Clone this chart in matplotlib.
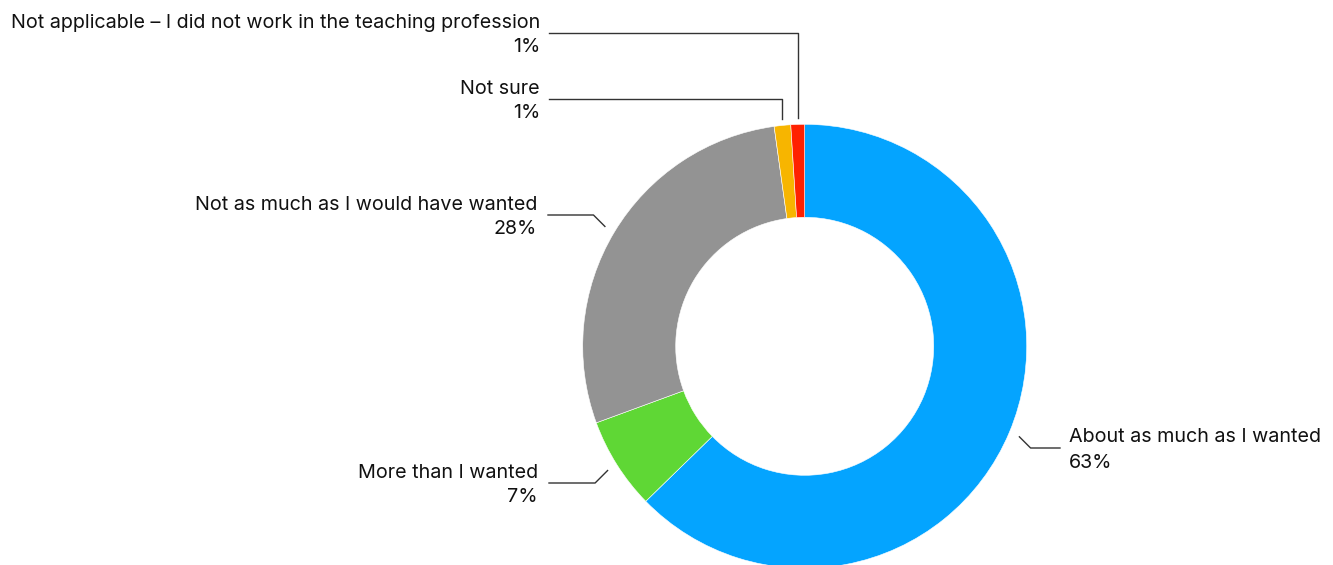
import numpy as np
import matplotlib
matplotlib.use("Agg")
import matplotlib.pyplot as plt

# survey answers, clockwise from 12 o'clock
answers = ["About as much as I wanted", "More than I wanted",
           "Not as much as I would have wanted", "Not sure",
           "Not applicable \u2013 I did not work in the teaching profession"]
shares = [62.7, 6.7, 28.4, 1.2, 1.0]
pct_labels = ["63%", "7%", "28%", "1%", "1%"]
colors = ["#04a4ff", "#5fd735", "#939393", "#f7b500", "#ff2100"]

W, H = 1333, 565
plt.rcParams["font.family"] = ["Inter", "DejaVu Sans"]
fig = plt.figure(figsize=(W / 100, H / 100), dpi=100)
ax = fig.add_axes([0, 0, 1, 1])

cx, cy, R, ring = 804.7, 346.3, 222, 93
wedges, _ = ax.pie(shares, colors=colors, center=(cx, cy), radius=R, startangle=-90,
                   counterclock=True, wedgeprops=dict(width=ring, linewidth=0.4, edgecolor="white"),
                   frame=True)
ax.set_xlim(0, W); ax.set_ylim(H, 0); ax.set_aspect("auto"); ax.axis("off")

# label layout: (side, text edge x, leader y, kind)
layout = [("right", 1069, 448, "kink"),
          ("left", 538, 483, "kink"),
          ("left", 537, 215, "kink"),
          ("left", 540, 99, "top"),
          ("left", 540, 33, "top")]

fs = 14.2
lc = "#333333"
for w, name, pct, (side, tx, ly, kind) in zip(wedges, answers, pct_labels, layout):
    mid = np.deg2rad((w.theta1 + w.theta2) / 2)
    # axis y is inverted, so pie angles run clockwise on screen
    ux, uy = np.cos(mid), np.sin(mid)
    ha = "left" if side == "right" else "right"
    gap = 9 if side == "left" else -9
    if kind == "top":
        x0 = cx + R * ux
        ax.plot([x0, x0, tx + gap], [cy + (R + 6) * uy, ly, ly], color=lc, lw=1)
    else:
        ax_, ay_ = cx + (R + 11) * ux, cy + (R + 11) * uy
        dy = abs(ly - ay_)
        kx = ax_ + dy if side == "right" else ax_ - dy
        end = tx - 9 if side == "right" else tx + 11
        ax.plot([ax_, kx, end], [ay_, ly, ly], color=lc, lw=1)
    ax.text(tx, ly - 10.5, name, ha=ha, va="center", fontsize=fs, color="#111111")
    ax.text(tx, ly + 14.5, pct, ha=ha, va="center", fontsize=fs, color="#111111")

fig.savefig("out.png", dpi=100, facecolor="white")
